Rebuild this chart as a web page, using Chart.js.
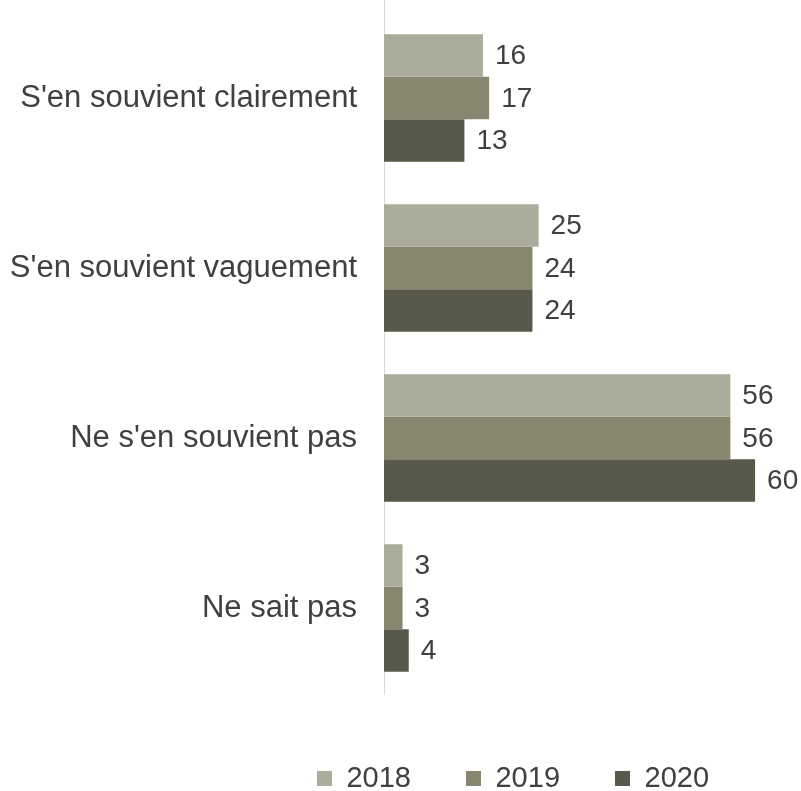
<!DOCTYPE html>
<html>
<head>
<meta charset="utf-8">
<script src="https://cdn.jsdelivr.net/npm/chart.js@4/dist/chart.umd.min.js"></script>
<style>
  html, body { margin: 0; padding: 0; background: #fff; }
  canvas { display: block; }
</style>
</head>
<body>
<canvas id="souvenirChart" width="801" height="791"></canvas>
<script>
const categories = [
  "S'en souvient clairement",
  "S'en souvient vaguement",
  "Ne s'en souvient pas",
  "Ne sait pas"
];
const years = ["2018", "2019", "2020"];
const values2018 = [16, 25, 56, 3];
const values2019 = [17, 24, 56, 3];
const values2020 = [13, 24, 60, 4];
const colors = ["#abac9c", "#87876f", "#58594a"];

const textColor = "#404040";
const fontFamily = "'Liberation Sans', Arial, sans-serif";

// value written just past the end of each bar
const barValues = {
  id: "barValues",
  afterDatasetsDraw(chart) {
    const ctx = chart.ctx;
    ctx.save();
    ctx.font = "28px " + fontFamily;
    ctx.fillStyle = textColor;
    ctx.textAlign = "left";
    ctx.textBaseline = "middle";
    chart.data.datasets.forEach((ds, i) => {
      chart.getDatasetMeta(i).data.forEach((bar, j) => {
        ctx.fillText(String(ds.data[j]), bar.x + 12, bar.y + 1);
      });
    });
    ctx.restore();
  }
};

// category axis line runs up to the top edge
const axisLine = {
  id: "axisLine",
  beforeDatasetsDraw(chart) {
    const ctx = chart.ctx;
    const x = Math.round(chart.chartArea.left) + 0.5;
    ctx.save();
    ctx.strokeStyle = "#d9d9d9";
    ctx.lineWidth = 1;
    ctx.beginPath();
    ctx.moveTo(x, 0);
    ctx.lineTo(x, chart.chartArea.bottom + 2);
    ctx.stroke();
    ctx.restore();
  }
};

// legend row sits under the bars rather than centred on the canvas
const legendShift = {
  id: "legendShift",
  afterLayout(chart) {
    chart.legend.left += 120;
    chart.legend.right += 120;
  }
};

new Chart(document.getElementById("souvenirChart").getContext("2d"), {
  type: "bar",
  data: {
    labels: categories,
    datasets: [
      { label: years[0], data: values2018, backgroundColor: colors[0] },
      { label: years[1], data: values2019, backgroundColor: colors[1] },
      { label: years[2], data: values2020, backgroundColor: colors[2] }
    ]
  },
  options: {
    indexAxis: "y",
    responsive: false,
    animation: false,
    layout: { padding: { top: 13, right: 15, left: 0, bottom: 0 } },
    datasets: {
      bar: { categoryPercentage: 0.75, barPercentage: 1.0 }
    },
    scales: {
      x: {
        min: 0,
        max: 65,
        grid: { display: false },
        border: { display: false },
        ticks: { display: false },
        afterFit(scale) { scale.height = 16; }
      },
      y: {
        grid: { display: false, drawTicks: false },
        border: { display: false },
        ticks: {
          color: textColor,
          padding: 27,
          font: { size: 31, family: fontFamily }
        },
        afterFit(scale) {
          scale.width = 384;
          scale.paddingTop = 0;
          scale.paddingBottom = 0;
        }
      }
    },
    plugins: {
      tooltip: { enabled: false },
      legend: {
        position: "bottom",
        maxHeight: 82,
        labels: {
          color: textColor,
          boxWidth: 15,
          boxHeight: 15,
          padding: 55,
          font: { size: 29, family: fontFamily }
        }
      }
    }
  },
  plugins: [axisLine, barValues, legendShift]
});
</script>
</body>
</html>
